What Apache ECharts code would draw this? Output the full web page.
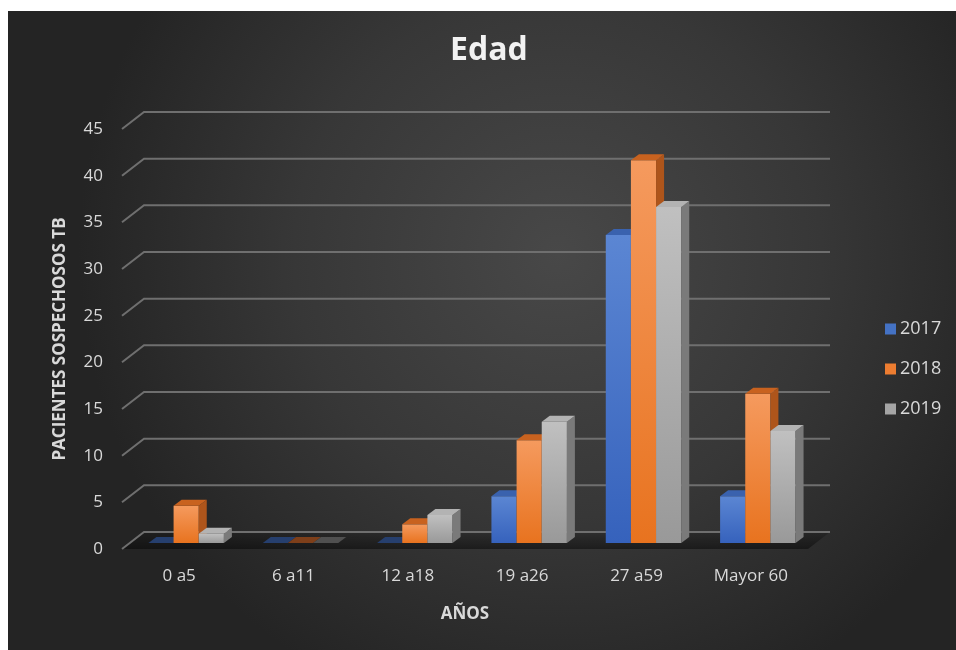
<!DOCTYPE html>
<html>
<head>
<meta charset="utf-8">
<title>Edad</title>
<script src="https://cdn.jsdelivr.net/npm/echarts@6/dist/echarts.min.js"></script>
<style>
  html, body { margin: 0; padding: 0; background: #ffffff; }
  #chart { width: 956px; height: 650px; }
</style>
</head>
<body>
<div id="chart"></div>
<script>
// Age groups and suspected TB patients per year
const categories = ['0 a5', '6 a11', '12 a18', '19 a26', '27 a59', 'Mayor 60'];
const years = ['2017', '2018', '2019'];
const values2017 = [0, 0, 0, 5, 33, 5];
const values2018 = [4, 0, 2, 11, 41, 16];
const values2019 = [1, 0, 3, 13, 36, 12];
const yTicks = [0, 5, 10, 15, 20, 25, 30, 35, 40, 45];

const seriesValues = [values2017, values2018, values2019];

const FONT = '"Open Sans", "Noto Sans", sans-serif';

// face colours for each year: front gradient (top, bottom), top face, side face
const palette = [
  { base: '#4472C4', front: ['#5B86D3', '#3662BC'], top: '#3A62AE', side: '#2D4E8E', flat: '#263F6E' },
  { base: '#ED7D31', front: ['#F59A5E', '#E8731F'], top: '#C8621F', side: '#AE551B', flat: '#7E3F1A' },
  { base: '#A5A5A5', front: ['#C0C0C0', '#999999'], top: '#B3B3B3', side: '#7A7A7A', flat: '#505050' }
];

// 3D projection offsets (pixels)
const WALL_DX = 22, WALL_DY = -17;   // front floor edge -> back wall
const BAR_DX = 7, BAR_DY = -6;       // front floor edge -> bar front plane
const DEPTH_DX = 8, DEPTH_DY = -6;   // bar thickness

const chart = echarts.init(document.getElementById('chart'));

function renderGridLine(params, api) {
  const cs = params.coordSys;
  const y = api.coord([0, api.value(0)])[1];
  const x0 = cs.x, x1 = cs.x + cs.width;
  return {
    type: 'polyline',
    shape: { points: [[x0, y], [x0 + WALL_DX, y + WALL_DY], [x1 + WALL_DX, y + WALL_DY]] },
    style: { stroke: '#6f6f6f', lineWidth: 2, fill: null }
  };
}

function renderFloor(params, api) {
  const cs = params.coordSys;
  const y = api.coord([0, 0])[1];
  const x0 = cs.x, x1 = cs.x + cs.width;
  return {
    type: 'polygon',
    shape: { points: [[x0, y], [x0 + WALL_DX, y + WALL_DY], [x1 + WALL_DX, y + WALL_DY], [x1, y]] },
    style: {
      fill: new echarts.graphic.LinearGradient(0, 0, 0, 1, [
        { offset: 0, color: 'rgba(0,0,0,0.15)' },
        { offset: 1, color: 'rgba(0,0,0,0.45)' }
      ])
    }
  };
}

function makeBarRenderer(s) {
  const col = palette[s];
  return function (params, api) {
    const cat = api.value(0), val = api.value(1);
    const base = api.coord([cat, 0]);
    const topPt = api.coord([cat, val]);
    const band = api.size([1, 0])[0];
    const w = band * 0.22;
    const x0 = base[0] + BAR_DX + (s - 1.5) * w;
    const yb = base[1] + BAR_DY;
    const yt = topPt[1] + BAR_DY;
    const children = [];
    if (val > 0) {
      children.push({
        type: 'rect',
        shape: { x: x0, y: yt, width: w, height: yb - yt },
        style: {
          fill: new echarts.graphic.LinearGradient(0, 0, 0, 1, [
            { offset: 0, color: col.front[0] },
            { offset: 1, color: col.front[1] }
          ])
        }
      });
      children.push({
        type: 'polygon',
        shape: { points: [[x0 + w, yt], [x0 + w + DEPTH_DX, yt + DEPTH_DY], [x0 + w + DEPTH_DX, yb + DEPTH_DY], [x0 + w, yb]] },
        style: { fill: col.side }
      });
    }
    children.push({
      type: 'polygon',
      shape: { points: [[x0, yt], [x0 + w, yt], [x0 + w + DEPTH_DX, yt + DEPTH_DY], [x0 + DEPTH_DX, yt + DEPTH_DY]] },
      style: { fill: val > 0 ? col.top : col.flat }
    });
    return { type: 'group', children: children };
  };
}

const barSeries = years.map(function (yr, s) {
  return {
    name: yr,
    type: 'custom',
    renderItem: makeBarRenderer(s),
    itemStyle: { color: palette[s].base },
    encode: { x: 0, y: 1 },
    data: seriesValues[s].map(function (v, i) { return [i, v]; }),
    z: 5 + s,
    silent: true
  };
});

const option = {
  animation: false,
  backgroundColor: '#ffffff',
  textStyle: { fontFamily: FONT },
  graphic: [{
    type: 'rect',
    left: 8, top: 11,
    shape: { width: 948, height: 639 },
    style: {
      fill: new echarts.graphic.RadialGradient(0.58, 0.38, 0.75, [
        { offset: 0, color: '#484848' },
        { offset: 0.55, color: '#373737' },
        { offset: 1, color: '#242424' }
      ])
    },
    z: -10,
    silent: true
  }],
  title: {
    text: 'Edad',
    left: 445,
    top: 30,
    textStyle: { color: '#f2f2f2', fontSize: 32, fontWeight: 'bold', fontFamily: FONT }
  },
  legend: {
    orient: 'vertical',
    left: 880,
    top: 315,
    itemWidth: 11,
    itemHeight: 11,
    itemGap: 22,
    icon: 'rect',
    data: years,
    textStyle: { color: '#d9d9d9', fontSize: 18, padding: [0, 0, 0, -1] }
  },
  grid: { left: 122, right: 148, top: 129, bottom: 101 },
  xAxis: {
    type: 'category',
    data: categories,
    name: 'AÑOS',
    nameLocation: 'middle',
    nameGap: 57,
    nameTextStyle: { color: '#d9d9d9', fontSize: 17, fontWeight: 'bold' },
    axisLine: { show: false },
    axisTick: { show: false },
    axisLabel: { color: '#d9d9d9', fontSize: 17, margin: 19 }
  },
  yAxis: {
    type: 'value',
    min: 0,
    max: 45,
    interval: 5,
    name: 'PACIENTES SOSPECHOSOS TB',
    nameLocation: 'middle',
    nameGap: 53,
    nameTextStyle: { color: '#d9d9d9', fontSize: 17, fontWeight: 'bold' },
    axisLine: { show: false },
    axisTick: { show: false },
    splitLine: { show: false },
    axisLabel: { color: '#d9d9d9', fontSize: 17, margin: 19 }
  },
  series: [
    {
      type: 'custom',
      name: 'floor',
      renderItem: renderFloor,
      data: [[0]],
      encode: { y: 0 },
      z: 1,
      silent: true
    },
    {
      type: 'custom',
      name: 'grid',
      renderItem: renderGridLine,
      data: yTicks.map(function (t) { return [t]; }),
      encode: { y: 0 },
      z: 2,
      silent: true
    }
  ].concat(barSeries)
};

chart.setOption(option);
</script>
</body>
</html>
